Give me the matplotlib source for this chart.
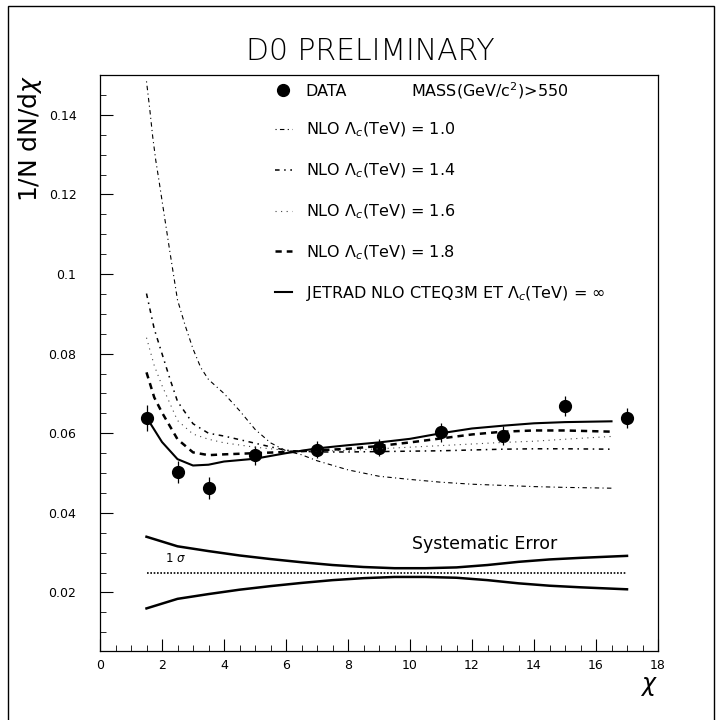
import numpy as np
import matplotlib.pyplot as plt
from matplotlib.patches import Rectangle

plt.rcParams['font.family'] = ['DejaVu Sans']
plt.rcParams['mathtext.fontset'] = 'dejavusans'

# measured points
chi_data = [1.5, 2.5, 3.5, 5.0, 7.0, 9.0, 11.0, 13.0, 15.0, 17.0]
y_data = [0.0638, 0.0503, 0.0463, 0.0545, 0.0559, 0.0564, 0.0602, 0.0594, 0.0669, 0.0638]
y_err = [0.0033, 0.0028, 0.0028, 0.0024, 0.0022, 0.0022, 0.0023, 0.0023, 0.0025, 0.0025]

# NLO Lambda_c = 1.0 TeV
chi_10 = [1.5, 1.6, 1.7, 1.8, 1.9, 2.0, 2.25, 2.5, 2.75, 3.0, 3.25, 3.5, 4.0, 4.5, 5.0,
          5.5, 6.0, 6.5, 7.0, 8.0, 9.0, 10.0, 11.0, 12.0, 13.0, 14.0, 15.0, 16.5]
y_10 = [0.1484, 0.1418, 0.1345, 0.1285, 0.1236, 0.1185, 0.1058, 0.0935, 0.0870, 0.0812,
        0.0765, 0.0735, 0.0700, 0.0657, 0.0610, 0.0576, 0.0556, 0.0546, 0.0531, 0.0508,
        0.0492, 0.0484, 0.0477, 0.0472, 0.0469, 0.0466, 0.0464, 0.0462]

# NLO Lambda_c = 1.4 TeV
chi_14 = [1.5, 1.75, 2.0, 2.25, 2.5, 3.0, 3.5, 4.0, 5.0, 6.0, 7.0, 8.0, 9.0, 10.0,
          11.0, 12.0, 13.0, 14.0, 15.0, 16.5]
y_14 = [0.0951, 0.0862, 0.0800, 0.0738, 0.0680, 0.0624, 0.0600, 0.0593, 0.0575, 0.0557,
        0.0553, 0.0553, 0.0554, 0.0555, 0.0556, 0.0558, 0.0560, 0.0561, 0.0561, 0.0560]

# NLO Lambda_c = 1.6 TeV
chi_16 = [1.5, 1.75, 2.0, 2.5, 3.0, 3.5, 4.0, 5.0, 6.0, 7.0, 8.0, 9.0, 10.0, 11.0,
          12.0, 13.0, 14.0, 15.0, 16.5]
y_16 = [0.0840, 0.0770, 0.0720, 0.0632, 0.0598, 0.0585, 0.0576, 0.0565, 0.0557, 0.0555,
        0.0557, 0.0561, 0.0565, 0.0569, 0.0573, 0.0577, 0.0580, 0.0585, 0.0592]

# NLO Lambda_c = 1.8 TeV
chi_18 = [1.5, 1.75, 2.0, 2.5, 3.0, 3.5, 4.0, 5.0, 6.0, 7.0, 8.0, 9.0, 10.0, 11.0,
          12.0, 13.0, 14.0, 15.0, 16.5]
y_18 = [0.0753, 0.0690, 0.0652, 0.0585, 0.0552, 0.0545, 0.0547, 0.0550, 0.0553, 0.0557,
        0.0561, 0.0568, 0.0577, 0.0587, 0.0597, 0.0604, 0.0607, 0.0607, 0.0604]

# JETRAD NLO CTEQ3M, no compositeness
chi_sm = [1.5, 2.0, 2.5, 3.0, 3.5, 4.0, 5.0, 6.0, 7.0, 8.0, 9.0, 10.0, 11.0, 12.0,
          13.0, 14.0, 15.0, 16.5]
y_sm = [0.0640, 0.0578, 0.0535, 0.0519, 0.0521, 0.0529, 0.0536, 0.0550, 0.0562, 0.0570,
        0.0577, 0.0586, 0.0600, 0.0612, 0.0619, 0.0625, 0.0628, 0.0630]

# systematic error band around a reference level
chi_sys = [1.5, 2.5, 3.5, 4.5, 5.5, 6.5, 7.5, 8.5, 9.5, 10.5, 11.5, 12.5, 13.5, 14.5, 15.5, 17.0]
sys_half = [0.0090, 0.0066, 0.0054, 0.0043, 0.0034, 0.0026, 0.0019, 0.0014, 0.0011, 0.0011,
            0.0013, 0.0019, 0.0027, 0.0033, 0.0037, 0.0042]
sys_level = 0.025

fig = plt.figure(figsize=(7.22, 7.2), dpi=100)
ax = fig.add_axes([100/722, 1-651/720, 558/722, 576/720])

ax.errorbar(chi_data, y_data, yerr=y_err, fmt='none', ecolor='black', elinewidth=0.9, capsize=0)
ax.plot(chi_data, y_data, 'o', color='black', ms=8.5, ls='none', label='DATA')
ax.plot(chi_10, y_10, color='black', lw=0.8, ls=(0, (1, 3, 4, 3)), label=r'NLO $\Lambda_c$(TeV) = 1.0')
ax.plot(chi_14, y_14, color='black', lw=1.1, ls=(0, (3, 3, 1, 3)), label=r'NLO $\Lambda_c$(TeV) = 1.4')
ax.plot(chi_16, y_16, color='#444444', lw=0.8, ls=(0, (1, 4)), label=r'NLO $\Lambda_c$(TeV) = 1.6')
ax.plot(chi_18, y_18, color='black', lw=1.8, ls=(0, (2.5, 2)), label=r'NLO $\Lambda_c$(TeV) = 1.8')
ax.plot(chi_sm, y_sm, color='black', lw=1.5, ls='-',
        label=r'JETRAD NLO CTEQ3M ET $\Lambda_c$(TeV) = $\infty$')

upper = sys_level + np.array(sys_half)
lower = sys_level - np.array(sys_half)
ax.plot(chi_sys, upper, color='black', lw=1.8)
ax.plot(chi_sys, lower, color='black', lw=1.8)
ax.plot([chi_sys[0], chi_sys[-1]], [sys_level, sys_level], color='black', lw=1.2, ls=(0, (1, 1)))

ax.text(10.05, 0.0322, 'Systematic Error', fontsize=12.5, va='center', ha='left')
ax.text(2.1, 0.0285, r'1 $\sigma$', fontsize=8.5, va='center', ha='left')

ax.set_xlim(0, 18)
ax.set_ylim(0.0053, 0.150)
ax.set_xticks(np.arange(0, 19, 2))
ax.set_xticks(np.arange(0, 18.1, 0.5), minor=True)
ax.set_yticks([0.02, 0.04, 0.06, 0.08, 0.1, 0.12, 0.14])
ax.set_yticklabels(['0.02', '0.04', '0.06', '0.08', '0.1', '0.12', '0.14'])
ax.set_yticks(np.arange(0.01, 0.1501, 0.005), minor=True)
ax.tick_params(which='both', direction='in', top=False, right=False, labelsize=9)
ax.tick_params(axis='y', which='major', length=9, pad=17)
ax.tick_params(axis='x', which='major', length=9, pad=6)
ax.tick_params(which='minor', length=4.5)
for s in ax.spines.values():
    s.set_linewidth(0.9)

ax.set_xlabel(r'$\chi$', loc='right', fontsize=17, labelpad=1)
ax.set_ylabel(r'1/N dN/d$\chi$', loc='top', fontsize=18, labelpad=3)

ax.legend(loc='upper left', bbox_to_anchor=(0.313, 0.985), frameon=False, fontsize=11.5,
          handlelength=1.1, handletextpad=0.85, labelspacing=1.4, borderpad=0,
          borderaxespad=0)
fig.text(411/722, 1-91/720, r'MASS(GeV/c$^2$)>550', fontsize=11.5, va='center', ha='left')

fig.text(370/722, 1-52/720, 'D0 PRELIMINARY', fontsize=21.5, ha='center', va='center',
         fontweight='light')

# page frame
fig.patches.append(Rectangle((8/722, -0.02), 706/722, 1.02-6/720, transform=fig.transFigure,
                             fill=False, lw=1.0, edgecolor='black'))

fig.savefig('out.png', dpi=100)
